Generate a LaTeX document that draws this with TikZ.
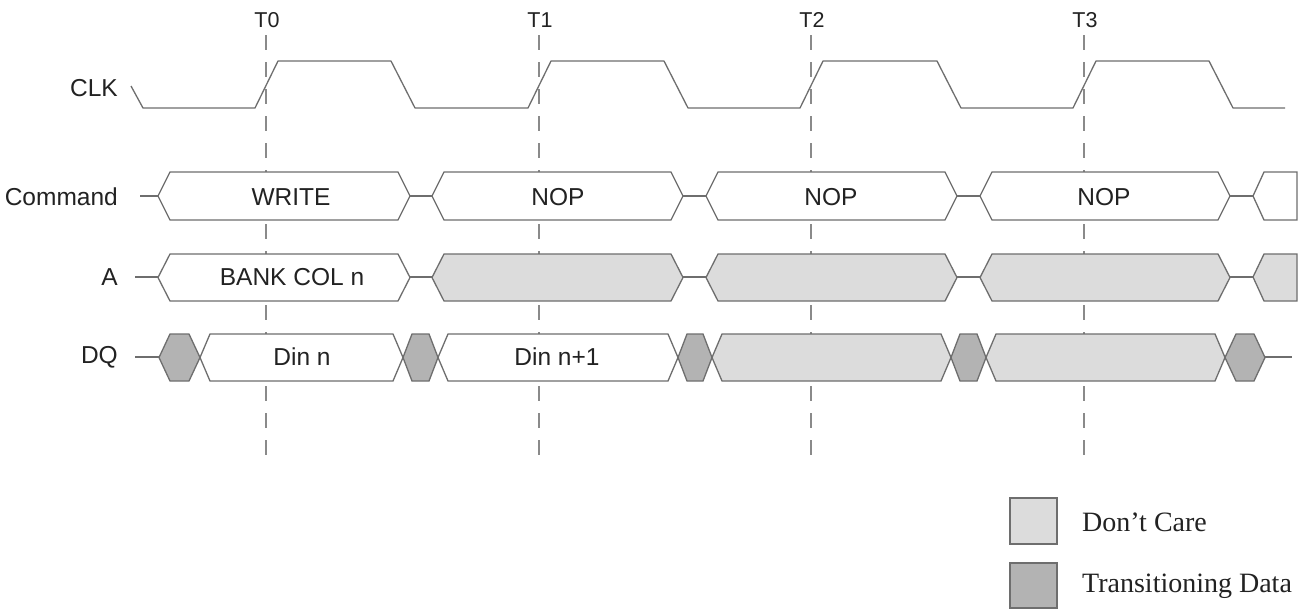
\documentclass[tikz,border=0pt]{standalone}
\usepackage{fontspec}
\setmainfont{Liberation Sans}
\newfontfamily\legendfont{Liberation Serif}
\definecolor{wline}{HTML}{6E6E6E}
\definecolor{dline}{HTML}{8A8A8A}
\definecolor{dcfill}{HTML}{DCDCDC}
\definecolor{trfill}{HTML}{B3B3B3}
\definecolor{txt}{HTML}{222222}
\newcommand{\hexshape}[6]{\draw[#6] (#1,{(#3+#4)/2}) -- ({#1+#5},#3) -- ({#2-#5},#3) -- (#2,{(#3+#4)/2}) -- ({#2-#5},#4) -- ({#1+#5},#4) -- cycle;}
\tikzset{
  sig/.style={draw=wline, line width=1.3pt, line join=miter},
  whitebox/.style={sig, fill=white},
  dcbox/.style={sig, fill=dcfill},
  trbox/.style={sig, fill=trfill},
  tickline/.style={draw=dline, line width=1.2pt, dash pattern=on 15pt off 12pt},
  lab/.style={text=txt, font=\fontsize{24.5}{28}\selectfont, inner sep=0pt, anchor=east},
  tlab/.style={text=txt, font=\fontsize{21.5}{25}\selectfont, inner sep=0pt},
  boxtxt/.style={text=txt, font=\fontsize{24.5}{28}\selectfont, inner sep=0pt},
  legtxt/.style={text=txt, font=\legendfont\fontsize{28}{32}\selectfont, inner sep=0pt, anchor=west}
}
\begin{document}
\begin{tikzpicture}[x=1pt,y=-1pt]
\useasboundingbox (0,0) rectangle (1309,611);
\fill[white] (0,0) rectangle (1309,611);
% time markers
\foreach \x/\t [count=\i from 0] in {266/T0,539/T1,811/T2,1084/T3}{
  \node[tlab] (t\i) at (\x+1,20) {\t};
  \coordinate (ta\i) at (\x,35);
  \coordinate (tb\i) at (\x,456);
  \draw[tickline] (ta\i) -- (tb\i);
}
% labels
\node[lab] (clk) at (118,88) {CLK};
\node[lab] (cmd) at (118,197) {Command};
\node[lab] (addr) at (118,277) {A};
\node[lab] (dq) at (118,357) {DQ};
% CLK waveform
\draw[sig, line join=round] (131,86) -- (143,108) -- (255,108) -- (278,61) -- (391,61) -- (415,108)
  -- (528,108) -- (551,61) -- (664,61) -- (688,108)
  -- (800,108) -- (823,61) -- (937,61) -- (961,108)
  -- (1073,108) -- (1096,61) -- (1209,61) -- (1233,108) -- (1285,108);
% Command row
\draw[sig] (140,196) -- (158,196);
\draw[sig] (410,196) -- (432,196);
\draw[sig] (683,196) -- (706,196);
\draw[sig] (957,196) -- (980,196);
\draw[sig] (1230,196) -- (1253,196);
\hexshape{158}{410}{172}{220}{12}{whitebox}
\hexshape{432}{683}{172}{220}{12}{whitebox}
\hexshape{706}{957}{172}{220}{12}{whitebox}
\hexshape{980}{1230}{172}{220}{12}{whitebox}
\draw[whitebox] (1253,196) -- (1264,172) -- (1297,172) -- (1297,220) -- (1264,220) -- cycle;
\node[boxtxt] (c0) at (291,197) {WRITE};
\node[boxtxt] (c1) at (558,197) {NOP};
\node[boxtxt] (c2) at (831,197) {NOP};
\node[boxtxt] (c3) at (1104,197) {NOP};
% A row
\draw[sig] (135,277) -- (158,277);
\draw[sig] (410,277) -- (432,277);
\draw[sig] (683,277) -- (706,277);
\draw[sig] (957,277) -- (980,277);
\draw[sig] (1230,277) -- (1253,277);
\hexshape{158}{410}{254}{301}{12}{whitebox}
\hexshape{432}{683}{254}{301}{12}{dcbox}
\hexshape{706}{957}{254}{301}{12}{dcbox}
\hexshape{980}{1230}{254}{301}{12}{dcbox}
\draw[dcbox] (1253,277) -- (1264,254) -- (1297,254) -- (1297,301) -- (1264,301) -- cycle;
\node[boxtxt] (a0) at (292,277) {BANK COL n};
% DQ row
\draw[sig] (135,357) -- (159,357);
\draw[sig] (1265,357) -- (1292,357);
\hexshape{200}{403}{334}{381}{10}{whitebox}
\hexshape{438}{678}{334}{381}{10}{whitebox}
\hexshape{712}{951}{334}{381}{10}{dcbox}
\hexshape{986}{1225}{334}{381}{10}{dcbox}
\hexshape{159}{200}{334}{381}{11}{trbox}
\hexshape{403}{438}{334}{381}{9}{trbox}
\hexshape{678}{712}{334}{381}{9}{trbox}
\hexshape{951}{986}{334}{381}{9}{trbox}
\hexshape{1225}{1265}{334}{381}{11}{trbox}
\node[boxtxt] (d0) at (302,357) {Din n};
\node[boxtxt] (d1) at (557,357) {Din n+1};
% legend
\draw[dcbox] (1010,498) rectangle (1057,544);
\draw[trbox] (1010,563) rectangle (1057,608);
\node[legtxt] (l0) at (1082,522) {Don’t Care};
\node[legtxt] (l1) at (1082,586) {Transitioning Data};
\end{tikzpicture}
\end{document}
